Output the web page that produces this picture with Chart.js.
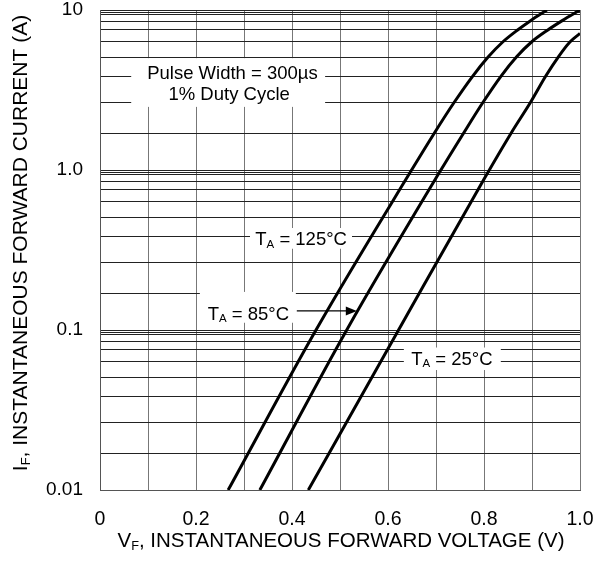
<!DOCTYPE html>
<html>
<head>
<meta charset="utf-8">
<title>Forward Voltage</title>
<script src="https://cdn.jsdelivr.net/npm/chart.js@4/dist/chart.umd.min.js"></script>
<style>
  html, body { margin: 0; padding: 0; background: #ffffff; }
  #wrap { width: 606px; height: 573px; }
</style>
</head>
<body>
<div id="wrap"><canvas id="vfChart" width="606" height="573"></canvas></div>
<script>
// Forward characteristics, I_F vs V_F at three ambient temperatures

const voltage125 = [0.267, 0.45, 0.645, 0.697, 0.738, 0.777, 0.809, 0.839, 0.870, 0.897, 0.931];
const current125 = [0.01, 0.1, 0.953, 1.71, 2.65, 3.88, 5.1, 6.31, 7.5, 8.58, 10];

const voltage85 = [0.333, 0.514, 0.706, 0.758, 0.798, 0.836, 0.868, 0.899, 0.933, 0.963, 1.0];
const current85 = [0.01, 0.1, 0.953, 1.71, 2.65, 3.88, 5.1, 6.31, 7.5, 8.58, 10];

const voltage25 = [0.434, 0.622, 0.799, 0.857, 0.897, 0.929, 0.955, 0.979, 1.0];
const current25 = [0.01, 0.1, 0.866, 1.71, 2.65, 3.88, 5.1, 6.31, 7.14];

// axis ticks / grid
const xGridValues = [0, 0.1, 0.2, 0.3, 0.4, 0.5, 0.6, 0.7, 0.8, 0.9, 1.0];
const xTickLabels = ["0", "", "0.2", "", "0.4", "", "0.6", "", "0.8", "", "1.0"];

const yDecades = [0.01, 0.1, 1, 10];
const yTickLabels = ["0.01", "0.1", "1.0", "10"];
const yMinorFactors = [1.7, 2.64, 3.86, 5.08, 6.31, 7.5, 8.53, 9.33, 9.67];

const xTitle = [{ t: "V" }, { t: "F", sub: true }, { t: ", INSTANTANEOUS FORWARD VOLTAGE (V)" }];
const yTitle = [{ t: "I" }, { t: "F", sub: true }, { t: ", INSTANTANEOUS FORWARD CURRENT (A)" }];

const FONT = "'Liberation Sans', Arial, Helvetica, sans-serif";

function toPoints(xs, ys) {
  return xs.map((v, i) => ({ x: v, y: ys[i] }));
}

function yGridValues() {
  const vals = [];
  yDecades.forEach((d, i) => {
    vals.push(d);
    if (i < yDecades.length - 1) {
      yMinorFactors.forEach(f => vals.push(d * f));
    }
  });
  return vals;
}

/* =========================================
   TEXT WITH SUBSCRIPTS
========================================= */
function drawRich(ctx, parts, cx, baseY, size) {
  const subSize = size * 0.62;
  let total = 0;
  parts.forEach(p => {
    ctx.font = (p.sub ? subSize : size) + "px " + FONT;
    p.w = ctx.measureText(p.t).width;
    total += p.w;
  });
  let xPos = cx - total / 2;
  ctx.textAlign = "left";
  ctx.textBaseline = "alphabetic";
  parts.forEach(p => {
    ctx.font = (p.sub ? subSize : size) + "px " + FONT;
    ctx.fillText(p.t, xPos, p.sub ? baseY + size * 0.14 : baseY);
    xPos += p.w;
  });
}

function tempLabel(temp) {
  return [{ t: "T" }, { t: "A", sub: true }, { t: " = " + temp + "°C" }];
}

/* =========================================
   ANNOTATIONS (white boxes, labels, arrow, titles)
========================================= */
const annotationPlugin = {
  id: "vfAnnotations",
  beforeDatasetsDraw(chart) {
    const ctx = chart.ctx;
    const xs = chart.scales.x;
    const ys = chart.scales.y;
    // [vFrom, vTo, iTop, iBottom]
    const boxes = [
      [0.065, 0.469, 5.0, 2.48],
      [0.3125, 0.525, 0.434, 0.322],
      [0.208, 0.408, 0.173, 0.111],
      [0.633, 0.835, 0.0777, 0.0562]
    ];
    ctx.save();
    ctx.fillStyle = "#ffffff";
    boxes.forEach(b => {
      const x0 = xs.getPixelForValue(b[0]);
      const x1 = xs.getPixelForValue(b[1]);
      const y0 = ys.getPixelForValue(b[2]);
      const y1 = ys.getPixelForValue(b[3]);
      ctx.fillRect(x0, y0, x1 - x0, y1 - y0);
    });
    ctx.restore();
  },
  afterDatasetsDraw(chart) {
    const ctx = chart.ctx;
    const xs = chart.scales.x;
    const ys = chart.scales.y;
    const fs = 18.5;
    const cap = fs * 0.716 / 2;

    ctx.save();
    ctx.fillStyle = "#000000";

    drawRich(ctx, [{ t: "Pulse Width = 300µs" }], xs.getPixelForValue(0.276), ys.getPixelForValue(4.1) + cap, fs);
    drawRich(ctx, [{ t: "1% Duty Cycle" }], xs.getPixelForValue(0.269), ys.getPixelForValue(3.03) + cap, fs);

    drawRich(ctx, tempLabel(125), xs.getPixelForValue(0.419), ys.getPixelForValue(0.372) + cap, fs);
    drawRich(ctx, tempLabel(85), xs.getPixelForValue(0.309), ys.getPixelForValue(0.1277) + cap, fs);
    drawRich(ctx, tempLabel(25), xs.getPixelForValue(0.733), ys.getPixelForValue(0.0668) + cap, fs);

    // arrow pointing at the 85 °C curve
    const ay = ys.getPixelForValue(0.1315);
    const ax0 = xs.getPixelForValue(0.41);
    const ax1 = xs.getPixelForValue(0.535);
    ctx.strokeStyle = "#000000";
    ctx.lineWidth = 1.2;
    ctx.beginPath();
    ctx.moveTo(ax0, ay);
    ctx.lineTo(ax1 - 10, ay);
    ctx.stroke();
    ctx.beginPath();
    ctx.moveTo(ax1, ay);
    ctx.lineTo(ax1 - 11, ay - 4.5);
    ctx.lineTo(ax1 - 11, ay + 4.5);
    ctx.closePath();
    ctx.fill();

    ctx.restore();
  },
  afterDraw(chart) {
    const ctx = chart.ctx;
    const area = chart.chartArea;
    ctx.save();
    ctx.fillStyle = "#000000";
    drawRich(ctx, xTitle, (area.left + area.right) / 2 + 1, 547, 20.5);
    ctx.translate(27, 243);
    ctx.rotate(-Math.PI / 2);
    drawRich(ctx, yTitle, 0, 0, 21);
    ctx.restore();
  }
};

/* =========================================
   CHART
========================================= */
function makeSeries(label, xs, ys) {
  return {
    label: label,
    data: toPoints(xs, ys),
    borderColor: "#000000",
    borderWidth: 3,
    pointRadius: 0,
    fill: false,
    cubicInterpolationMode: "monotone"
  };
}

// keep the plot box where the reference has it
function fixPadding(scale) {
  scale.paddingTop = 0;
  scale.paddingBottom = 0;
  scale.paddingLeft = 0;
  scale.paddingRight = 0;
}

new Chart(document.getElementById("vfChart"), {
  type: "line",
  data: {
    datasets: [
      makeSeries("TA = 125°C", voltage125, current125),
      makeSeries("TA = 85°C", voltage85, current85),
      makeSeries("TA = 25°C", voltage25, current25)
    ]
  },
  options: {
    responsive: false,
    animation: false,
    layout: {
      autoPadding: false,
      padding: { top: 10, right: 26, bottom: 0, left: 0 }
    },
    plugins: {
      legend: { display: false },
      tooltip: { enabled: false }
    },
    scales: {
      x: {
        type: "linear",
        min: 0,
        max: 1,
        afterBuildTicks: scale => {
          scale.ticks = xGridValues.map(v => ({ value: v }));
        },
        afterFit: scale => {
          scale.height = 83;
          fixPadding(scale);
        },
        grid: { color: "#777777", lineWidth: 1, drawTicks: false },
        border: { display: true, color: "#555555", width: 1 },
        ticks: {
          autoSkip: false,
          maxRotation: 0,
          padding: 18,
          color: "#000000",
          font: { family: FONT, size: 19.5 },
          callback: (value, index) => xTickLabels[index]
        }
      },
      y: {
        type: "logarithmic",
        min: 0.01,
        max: 10,
        afterBuildTicks: scale => {
          scale.ticks = yGridValues().map(v => ({ value: v }));
        },
        afterFit: scale => {
          scale.width = 100;
          fixPadding(scale);
        },
        grid: { color: "#222222", lineWidth: 1, drawTicks: false },
        border: { display: true, color: "#555555", width: 1 },
        ticks: {
          autoSkip: false,
          padding: 17,
          color: "#000000",
          font: { family: FONT, size: 19 },
          callback: value => {
            const k = yDecades.findIndex(d => Math.abs(value - d) < d * 1e-6);
            return k >= 0 ? yTickLabels[k] : "";
          }
        }
      }
    }
  },
  plugins: [annotationPlugin]
});
</script>
</body>
</html>
